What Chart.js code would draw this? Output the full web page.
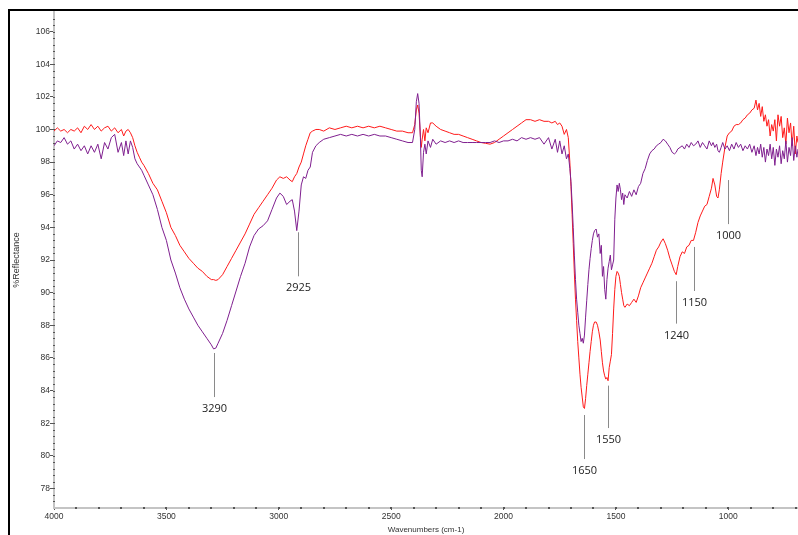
<!DOCTYPE html>
<html>
<head>
<meta charset="utf-8">
<script src="https://cdn.jsdelivr.net/npm/chart.js@4.4.1/dist/chart.umd.min.js"></script>
<style>
  body { margin: 0; background: #fff; }
  #wrap { width: 798px; height: 535px; }
</style>
</head>
<body>
<div id="wrap"><canvas id="grafico01" width="798" height="535"></canvas></div>
<script>
// wavenumbers (cm-1) shared by both spectra
const wavenumbers = [
  4000, 3985, 3970, 3955, 3940, 3925, 3910, 3895, 3880, 3865, 3850, 3835, 3820, 3805, 3790, 3775,
  3760, 3745, 3730, 3715, 3700, 3690, 3680, 3670, 3660, 3650, 3640, 3630, 3620, 3610, 3600, 3580,
  3560, 3540, 3520, 3500, 3480, 3460, 3440, 3420, 3400, 3380, 3360, 3340, 3320, 3300, 3290, 3280,
  3270, 3250, 3230, 3210, 3190, 3170, 3150, 3130, 3110, 3090, 3070, 3050, 3030, 3010, 2995, 2980,
  2965, 2950, 2940, 2930, 2920, 2910, 2900, 2890, 2880, 2870, 2860, 2850, 2835, 2820, 2800, 2775,
  2750, 2725, 2700, 2675, 2650, 2625, 2600, 2575, 2550, 2525, 2500, 2475, 2450, 2425, 2405, 2395,
  2388, 2382, 2376, 2370, 2366, 2362, 2356, 2350, 2344, 2336, 2325, 2315, 2300, 2280, 2260, 2240,
  2220, 2200, 2180, 2160, 2140, 2120, 2100, 2080, 2060, 2040, 2020, 2000, 1980, 1960, 1940, 1920,
  1900, 1880, 1860, 1840, 1820, 1800, 1785, 1770, 1760, 1750, 1740, 1730, 1720, 1712, 1705, 1700,
  1695, 1690, 1685, 1680, 1675, 1670, 1665, 1660, 1655, 1650, 1645, 1640, 1635, 1630, 1625, 1620,
  1615, 1610, 1605, 1600, 1595, 1588, 1582, 1576, 1570, 1565, 1560, 1555, 1550, 1545, 1540, 1535,
  1530, 1525, 1520, 1515, 1510, 1505, 1500, 1495, 1490, 1485, 1480, 1475, 1470, 1465, 1460, 1450,
  1440, 1430, 1420, 1410, 1400, 1390, 1380, 1370, 1360, 1350, 1340, 1330, 1320, 1310, 1300, 1290,
  1280, 1270, 1260, 1250, 1240, 1232, 1225, 1215, 1205, 1195, 1185, 1175, 1165, 1155, 1145, 1135,
  1125, 1115, 1105, 1095, 1085, 1075, 1068, 1060, 1052, 1046, 1040, 1032, 1025, 1015, 1005, 995,
  985, 975, 965, 955, 945, 935, 925, 915, 905, 895, 885, 877, 870, 863, 856, 849,
  842, 835, 828, 821, 814, 807, 800, 793, 786, 779, 772, 765, 758, 751, 744, 737,
  730, 723, 716, 709, 702, 695, 690
];

// red spectrum (%R)
const redValues = [
  99.9, 100.1, 99.9, 100.0, 99.8, 100.0, 99.9, 100.1, 99.8, 100.2, 100.0, 100.3, 100.0, 100.2, 99.9, 100.1,
  100.2, 99.9, 100.1, 99.8, 100.0, 99.6, 99.9, 100.0, 99.8, 99.5, 99.0, 98.6, 98.3, 98.0, 97.8, 97.3,
  96.7, 96.3, 95.6, 94.9, 94.0, 93.5, 92.9, 92.5, 92.1, 91.8, 91.5, 91.3, 91.0, 90.8, 90.8, 90.75,
  90.8, 91.1, 91.6, 92.1, 92.6, 93.1, 93.6, 94.2, 94.8, 95.2, 95.6, 96.0, 96.4, 96.9, 97.1, 97.0,
  97.1, 96.9, 96.8, 97.1, 97.3, 97.7, 98.0, 98.5, 99.0, 99.4, 99.8, 99.9, 100.0, 100.0, 99.9, 100.1,
  100.0, 100.1, 100.2, 100.1, 100.2, 100.1, 100.2, 100.1, 100.2, 100.1, 100.0, 99.9, 99.9, 99.8, 99.8, 100.3,
  101.2, 101.5, 101.0, 99.6, 98.9, 99.4, 100.0, 99.3, 100.1, 99.8, 100.4, 100.4, 100.2, 100.0, 99.9, 99.8,
  99.7, 99.7, 99.6, 99.5, 99.4, 99.3, 99.2, 99.15, 99.1, 99.2, 99.4, 99.6, 99.8, 100.0, 100.2, 100.4,
  100.6, 100.6, 100.5, 100.6, 100.5, 100.5, 100.4, 100.5, 100.3, 100.4, 100.2, 99.7, 100.0, 99.5, 98.0, 96.5,
  94.8, 93.0, 91.2, 89.6, 88.3, 87.0, 86.0, 85.0, 84.2, 83.6, 83.0, 82.9, 83.5, 84.3, 85.0, 85.7,
  86.4, 87.0, 87.6, 88.0, 88.2, 88.2, 88.0, 87.6, 87.1, 86.4, 85.7, 85.2, 84.9, 84.7, 84.8, 84.6,
  85.4, 85.8, 86.2, 87.5, 89.0, 90.2, 91.0, 91.3, 91.2, 91.0, 90.5, 90.0, 89.6, 89.2, 89.1, 89.3,
  89.2, 89.4, 89.6, 89.4, 89.8, 90.3, 90.6, 90.9, 91.2, 91.5, 91.8, 92.2, 92.6, 92.8, 93.1, 93.3,
  93.0, 92.6, 92.1, 91.7, 91.3, 91.1, 91.6, 92.2, 92.5, 92.4, 92.8, 92.9, 93.2, 93.2, 93.7, 94.3,
  94.7, 95.0, 95.3, 95.4, 95.9, 96.4, 97.0, 96.6, 95.9, 95.8, 96.3, 97.3, 98.0, 98.9, 99.6, 99.8,
  99.9, 100.2, 100.3, 100.3, 100.4, 100.6, 100.7, 100.9, 101.0, 101.2, 101.3, 101.8, 101.2, 101.6, 100.8, 101.4,
  100.5, 100.9, 100.2, 100.6, 99.6, 100.3, 99.9, 100.6, 99.3, 100.9, 100.2, 100.8, 99.5, 100.1, 99.1, 100.7,
  99.8, 100.4, 99.0, 100.2, 98.5, 99.6, 99.2
];

// purple spectrum (%R)
const purpleValues = [
  99.0, 99.3, 99.2, 99.5, 99.1, 99.3, 98.8, 99.1, 98.7, 99.0, 98.5, 99.0, 98.6, 99.1, 98.2, 99.2,
  98.8, 99.5, 99.7, 98.6, 99.2, 98.4, 99.3, 98.5, 99.3, 98.9, 98.2, 97.9, 97.7, 97.5, 97.2, 96.6,
  96.0, 95.1, 94.0, 93.2, 92.0, 91.2, 90.3, 89.6, 89.0, 88.5, 88.0, 87.6, 87.2, 86.8, 86.55, 86.6,
  86.9, 87.5, 88.3, 89.2, 90.1, 91.0, 91.8, 92.8, 93.5, 93.9, 94.1, 94.4, 95.1, 95.8, 96.1, 95.9,
  95.4, 95.6, 95.7, 95.0, 93.8, 95.0, 96.6, 97.1, 97.0, 97.5, 97.7, 98.6, 99.0, 99.2, 99.4, 99.5,
  99.6, 99.7, 99.6, 99.7, 99.6, 99.7, 99.6, 99.7, 99.6, 99.6, 99.5, 99.4, 99.3, 99.2, 99.2, 100.0,
  101.7, 102.2, 101.6, 99.5, 97.5, 97.1, 98.6, 99.1, 98.5, 99.3, 98.9, 99.4, 99.1, 99.3, 99.2, 99.3,
  99.2, 99.3, 99.2, 99.2, 99.2, 99.2, 99.2, 99.2, 99.2, 99.3, 99.2, 99.3, 99.3, 99.4, 99.3, 99.5,
  99.4, 99.5, 99.4, 99.5, 99.1, 99.5, 98.8, 99.4, 98.6, 99.3, 98.5, 99.0, 98.2, 98.5, 97.6, 96.8,
  95.5, 94.0, 92.3, 90.8, 89.6, 88.8, 88.0, 87.5, 87.0, 87.2, 86.9, 87.4, 88.5, 89.5, 90.5, 91.4,
  92.1, 92.7, 93.2, 93.6, 93.8, 93.9, 93.4, 93.6, 92.4, 92.9, 91.0, 91.6, 90.2, 89.6, 90.8, 91.5,
  91.9, 92.3, 91.4, 91.7, 92.0, 94.5, 95.8, 96.6, 96.2, 96.7, 96.3, 95.7, 96.1, 95.4, 96.0, 95.8,
  96.2, 95.9, 96.3, 96.0, 96.5, 96.7, 97.3, 97.6, 98.1, 98.5, 98.7, 98.8, 99.0, 99.1, 99.2, 99.4,
  99.3, 99.1, 98.9, 98.6, 98.5, 98.6, 98.8, 98.9, 99.0, 98.8, 99.1, 98.9, 99.2, 99.0, 99.1, 99.3,
  98.9, 99.2, 99.0, 98.8, 99.3, 99.0, 99.2, 98.9, 99.1, 98.7, 98.6, 98.9, 99.2, 98.8, 99.0, 98.7,
  99.1, 98.8, 99.2, 98.9, 99.1, 98.7, 99.0, 98.8, 99.1, 98.6, 99.0, 98.4, 98.9, 98.5, 99.1, 98.3,
  98.9, 98.0, 98.8, 98.4, 99.1, 98.2, 98.9, 97.8, 98.8, 98.3, 99.0, 97.9, 98.7, 98.2, 99.3, 98.0,
  98.9, 98.4, 99.5, 98.1, 99.0, 98.3, 98.8
];

// tick labels
const xTicks = [4000, 3500, 3000, 2500, 2000, 1500, 1000];
const yTicks = [78, 80, 82, 84, 86, 88, 90, 92, 94, 96, 98, 100, 102, 104, 106];

// peak markers
const peakLabels = ['3290', '2925', '1650', '1550', '1240', '1150', '1000'];
const peakWn = [3288, 2914, 1641, 1535, 1232, 1152, 1000];
const peakTop = [86.3, 93.7, 82.5, 84.3, 90.7, 92.8, 96.9];
const peakBottom = [83.6, 91.0, 79.8, 81.7, 88.1, 90.1, 94.2];

const redData = wavenumbers.map((x, i) => ({ x: x, y: redValues[i] }));
const purpleData = wavenumbers.map((x, i) => ({ x: x, y: purpleValues[i] }));

// minor ticks along the axis lines
const xMinor = [];
for (let v = 3900; v > 690; v -= 100) xMinor.push(v);
const yMinor = [];
for (let v = 77.2; v < 107; v += 0.4) yMinor.push(+v.toFixed(1));

const extras = {
  id: 'extras',
  afterDraw(chart) {
    const ctx = chart.ctx;
    const xs = chart.scales.x, ys = chart.scales.y;
    const area = chart.chartArea;
    ctx.save();
    // minor tick dots
    ctx.fillStyle = '#555';
    xMinor.forEach(v => {
      const px = Math.round(xs.getPixelForValue(v));
      ctx.fillRect(px - 1, area.bottom - 1, 2, 2);
    });
    yMinor.forEach(v => {
      const py = Math.round(ys.getPixelForValue(v));
      ctx.fillRect(area.left - 1, py, 2, 1);
    });
    // peak markers
    ctx.strokeStyle = '#8a8a8a';
    ctx.lineWidth = 1;
    ctx.fillStyle = '#222';
    ctx.font = '11px "Open Sans"';
    ctx.textAlign = 'center';
    ctx.textBaseline = 'middle';
    peakWn.forEach((wn, i) => {
      const px = Math.round(xs.getPixelForValue(wn)) + 0.5;
      const y1 = ys.getPixelForValue(peakTop[i]);
      const y2 = ys.getPixelForValue(peakBottom[i]);
      ctx.beginPath();
      ctx.moveTo(px, y1);
      ctx.lineTo(px, y2);
      ctx.stroke();
      ctx.fillText(peakLabels[i], px, y2 + 12);
    });
    // frame
    ctx.strokeStyle = '#000';
    ctx.lineWidth = 2;
    ctx.beginPath();
    ctx.moveTo(9, 535);
    ctx.lineTo(9, 10);
    ctx.lineTo(798, 10);
    ctx.stroke();
    ctx.restore();
  }
};

new Chart(document.getElementById('grafico01'), {
  type: 'line',
  data: {
    datasets: [
      {
        label: 'purple',
        data: purpleData,
        borderColor: '#7f1f8f',
        borderWidth: 1,
        pointRadius: 0,
        fill: false,
        tension: 0
      },
      {
        label: 'red',
        data: redData,
        borderColor: '#ff1a1a',
        borderWidth: 1,
        pointRadius: 0,
        fill: false,
        tension: 0
      }
    ]
  },
  options: {
    responsive: false,
    animation: false,
    devicePixelRatio: 1,
    layout: { padding: { top: 12, left: 0, right: 0, bottom: 0 } },
    plugins: {
      legend: { display: false },
      tooltip: { enabled: false }
    },
    scales: {
      x: {
        type: 'linear',
        reverse: true,
        min: 690,
        max: 4000,
        afterBuildTicks: s => { s.ticks = xTicks.map(v => ({ value: v })); },
        afterFit: s => { s.height = 27; },
        ticks: {
          autoSkip: false,
          maxRotation: 0,
          padding: 2,
          color: '#333',
          callback: v => String(v),
          font: { family: '"Liberation Sans", Arial', size: 8.5 }
        },
        grid: { drawOnChartArea: false, drawTicks: true, tickLength: 2, tickColor: '#555' },
        border: { display: true, color: '#c4c4c4', width: 2 },
        title: {
          display: true,
          text: 'Wavenumbers (cm-1)',
          color: '#333',
          font: { family: '"Liberation Sans", Arial', size: 8 },
          padding: { top: 0, bottom: 0 }
        }
      },
      y: {
        min: 76.8,
        max: 107.2,
        afterBuildTicks: s => { s.ticks = yTicks.map(v => ({ value: v })); },
        afterFit: s => { s.width = 54; },
        ticks: {
          padding: 0,
          color: '#333',
          callback: v => String(v),
          font: { family: '"Liberation Sans", Arial', size: 8.5 }
        },
        grid: { drawOnChartArea: false, drawTicks: true, tickLength: 4, tickColor: '#555' },
        border: { display: true, color: '#c4c4c4', width: 2 },
        title: {
          display: true,
          text: '%Reflectance',
          color: '#333',
          font: { family: '"Liberation Sans", Arial', size: 9 },
          padding: { top: 11.5, bottom: 0 }
        }
      }
    }
  },
  plugins: [extras]
});
</script>
</body>
</html>
